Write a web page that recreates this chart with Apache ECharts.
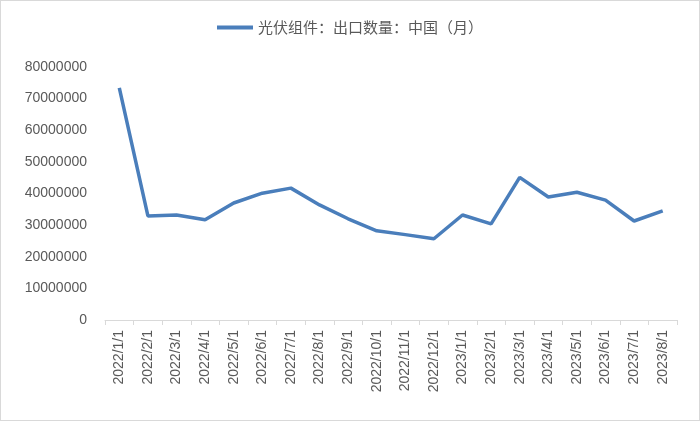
<!DOCTYPE html>
<html><head><meta charset="utf-8">
<script src="https://cdn.jsdelivr.net/npm/echarts@6/dist/echarts.min.js"></script>
<style>body{margin:0}#c{width:700px;height:421px;box-sizing:border-box;border:1px solid #d9d9d9}</style>
</head><body><div id="c"></div>
<script>
const categories=['2022/1/1','2022/2/1','2022/3/1','2022/4/1','2022/5/1','2022/6/1','2022/7/1','2022/8/1','2022/9/1','2022/10/1','2022/11/1','2022/12/1','2023/1/1','2023/2/1','2023/3/1','2023/4/1','2023/5/1','2023/6/1','2023/7/1','2023/8/1'];
const values=[73400000,32900000,33200000,31700000,37000000,40100000,41700000,36400000,32000000,28200000,27000000,25700000,33200000,30400000,45100000,38900000,40400000,37900000,31300000,34500000];
const seriesName='光伏组件：出口数量：中国（月）';
const chart=echarts.init(document.getElementById('c'));
chart.setOption({
 animation:false,
 textStyle:{fontFamily:'"Noto Sans CJK SC", "Liberation Sans", sans-serif'},
 legend:{top:14,left:'center',itemWidth:36,itemHeight:4,icon:'rect',textStyle:{fontSize:15,color:'#595959'},data:[seriesName]},
 grid:{left:104,right:22,top:66,bottom:100},
 xAxis:{type:'category',data:categories,boundaryGap:true,
  axisLine:{lineStyle:{color:'#d9d9d9'}},axisTick:{show:true,lineStyle:{color:'#d9d9d9'}},
  axisLabel:{rotate:90,color:'#595959',fontSize:14,margin:10,fontFamily:'"Liberation Sans", sans-serif',interval:0}},
 yAxis:{type:'value',min:0,max:80000000,interval:10000000,
  axisLine:{show:false},axisTick:{show:false},splitLine:{show:false},
  axisLabel:{color:'#595959',fontSize:14,margin:18,formatter:v=>String(v),fontFamily:'"Liberation Sans", sans-serif'}},
 series:[{name:seriesName,type:'line',data:values,symbol:'none',lineStyle:{width:3.5,color:'#4a7ebb'},itemStyle:{color:'#4a7ebb'}}]
});
</script></body></html>
